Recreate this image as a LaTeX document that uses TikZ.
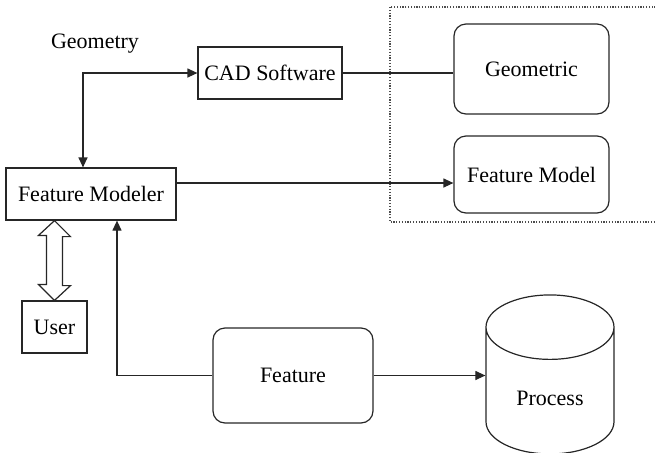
\documentclass[tikz,border=0pt]{standalone}
\usepackage{fontspec}
\setmainfont{Liberation Serif}
\usetikzlibrary{shapes.geometric, arrows.meta, calc}

\begin{document}
\begin{tikzpicture}[x=0.5pt, y=-0.5pt,
  font=\fontsize{11}{13}\selectfont,
  box/.style={draw=black!85, line width=0.6pt, inner sep=2pt, minimum height=26pt},
  rbox/.style={box, rounded corners=6pt, minimum width=77.5pt},
  conn/.style={draw=black!85, line width=0.6pt},
  tip/.style={-{Triangle[length=5pt, width=4.5pt]}},
  hollow/.style={draw=black!85, line width=0.6pt, fill=white, line join=miter}
]
  \useasboundingbox (0,0) rectangle (655,452);
  \draw[black!70, line width=0.7pt, dash pattern=on 0.6pt off 0.8pt] (390,7) rectangle (662,222);

  \node (geomlabel) at (95,44) {Geometry};
  \node[box, minimum width=72pt] (cad) at (270,73) {CAD Software};
  \node[box, minimum width=85pt] (modeler) at (91,194) {Feature Modeler};
  \node[box, minimum width=32.5pt] (user) at (54.5,327) {User};
  \node[rbox, minimum height=45pt] (geom) at (531.5,69) {Geometric};
  \node[rbox, minimum height=38.5pt] (fmodel) at (531.5,174.5) {Feature Model};
  \node[rbox, minimum width=80pt, minimum height=47.5pt] (feature) at (293,375.5) {Feature};
  \node[cylinder, draw=black!85, line width=0.6pt, shape border rotate=90, aspect=0.8,
        minimum width=64pt, minimum height=79.5pt] (process) at (550,398) {Process};

  \draw[conn, {Triangle[length=5pt, width=4.5pt]}-{Triangle[length=5pt, width=4.5pt]}]
    ([xshift=-4pt]modeler.north) |- (cad.west);
  \draw[conn] (cad.east) -- (cad.east -| geom.west);
  \draw[conn, tip] ([yshift=5.5pt]modeler.east) -- ([yshift=5.5pt]modeler.east -| fmodel.west);
  \draw[conn, tip] (feature.west) -| ([xshift=13pt]modeler.south);
  \draw[conn, tip] (feature.east) -- (feature.east -| process.west);

  \coordinate (dtop) at (user.north |- modeler.south);
  \coordinate (dbot) at (user.north);
  \draw[hollow] (dtop) -- ++(16,16) -- ++(-8,0) -- ++(0,49) -- ++(8,0) -- (dbot)
    -- ++(-16,-16) -- ++(8,0) -- ++(0,-49) -- ++(-8,0) -- cycle;
\end{tikzpicture}
\end{document}
